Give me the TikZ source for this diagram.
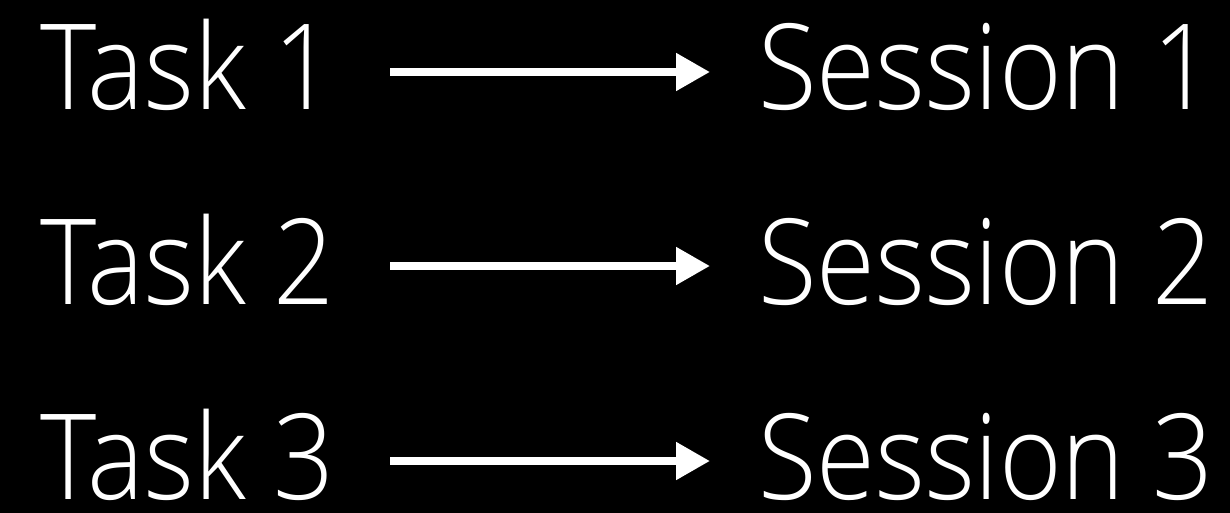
\documentclass[tikz,border=0pt]{standalone}
\usepackage{fontspec}
\setmainfont{Open Sans Light}[FakeStretch=0.9]
\usetikzlibrary{arrows.meta}
\begin{document}
\begin{tikzpicture}[x=1pt,y=-1pt,
  lbl/.style={text=white,inner sep=0pt,outer sep=0pt,anchor=base west,text depth=0pt,font=\fontsize{119}{119}\selectfont},
  arr/.style={white,line width=8pt,-{Triangle[length=34pt,width=36pt]}}]
\fill[black] (0,0) rectangle (1230,513);
\useasboundingbox (0,0) rectangle (1230,513);
\node[lbl] (t1) at (40,110) {Task 1};
\node[lbl] (s1) at (758,110) {Session 1};
\node[lbl] (t2) at (40,304) {Task 2};
\node[lbl] (s2) at (758,304) {Session 2};
\node[lbl] (t3) at (40,499) {Task 3};
\node[lbl] (s3) at (758,499) {Session 3};
\draw[arr] (t1.base west) ++(350,-38) -- ++(320,0);
\draw[arr] (t2.base west) ++(350,-38) -- ++(320,0);
\draw[arr] (t3.base west) ++(350,-38) -- ++(320,0);
\end{tikzpicture}
\end{document}
